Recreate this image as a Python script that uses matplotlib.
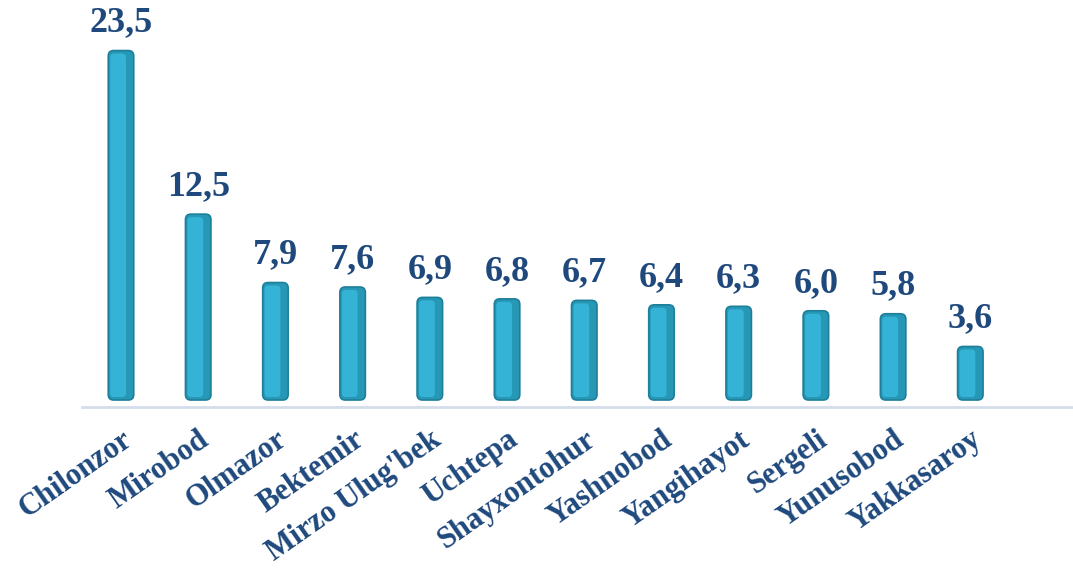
import matplotlib.pyplot as plt
from matplotlib.patches import FancyBboxPatch

tumanlar = ['Chilonzor', 'Mirobod', 'Olmazor', 'Bektemir', "Mirzo Ulug'bek", 'Uchtepa',
            'Shayxontohur', 'Yashnobod', 'Yangihayot', 'Sergeli', 'Yunusobod', 'Yakkasaroy']
qiymatlar = [23.5, 12.5, 7.9, 7.6, 6.9, 6.8, 6.7, 6.4, 6.3, 6.0, 5.8, 3.6]
yozuvlar = ['23,5', '12,5', '7,9', '7,6', '6,9', '6,8', '6,7', '6,4', '6,3', '6,0', '5,8', '3,6']

matn_rangi = '#1F497D'
plt.rcParams['font.family'] = ['Liberation Serif', 'DejaVu Serif']

fig = plt.figure(figsize=(10.73, 5.73), dpi=100)
ax = fig.add_axes([82 / 1073, 166 / 573, 1 - 82 / 1073, 1 - 166 / 573])

x = list(range(len(qiymatlar)))
bars = ax.bar(x, qiymatlar, width=0.33, color='#2AA2C2', edgecolor='none')

# yumaloq burchakli 3D ko'rinish
for b in bars:
    b.set_visible(False)
    p = FancyBboxPatch((b.get_x(), b.get_y()), b.get_width(), b.get_height(),
                       boxstyle='round,pad=0,rounding_size=0.07',
                       mutation_aspect=5.2, facecolor='#2797B6',
                       edgecolor='#1D7F9A', linewidth=1.2)
    ax.add_patch(p)
    hl = FancyBboxPatch((b.get_x() + 0.025, b.get_y() + 0.2), b.get_width() * 0.62,
                        b.get_height() - 0.4,
                        boxstyle='round,pad=0,rounding_size=0.05',
                        mutation_aspect=5.2, facecolor='#35B3D6',
                        edgecolor='none')
    ax.add_patch(hl)

for xi, v, s in zip(x, qiymatlar, yozuvlar):
    ax.text(xi, v + 0.75, s, ha='center', va='bottom', fontsize=26,
            fontweight='bold', color=matn_rangi)

ax.set_xlim(-0.505, 12.33)
ax.set_ylim(-0.47, 26.9)
ax.set_xticks(x)
ax.set_xticklabels(tumanlar, rotation=35, ha='right', rotation_mode='anchor',
                   fontsize=22, fontweight='bold', color=matn_rangi)
ax.tick_params(axis='x', length=0, pad=13)
ax.set_yticks([])
for s in ['top', 'right', 'left']:
    ax.spines[s].set_visible(False)
ax.spines['bottom'].set_color('#D5DDEB')
ax.spines['bottom'].set_linewidth(2)

fig.savefig('out.png', dpi=100)
